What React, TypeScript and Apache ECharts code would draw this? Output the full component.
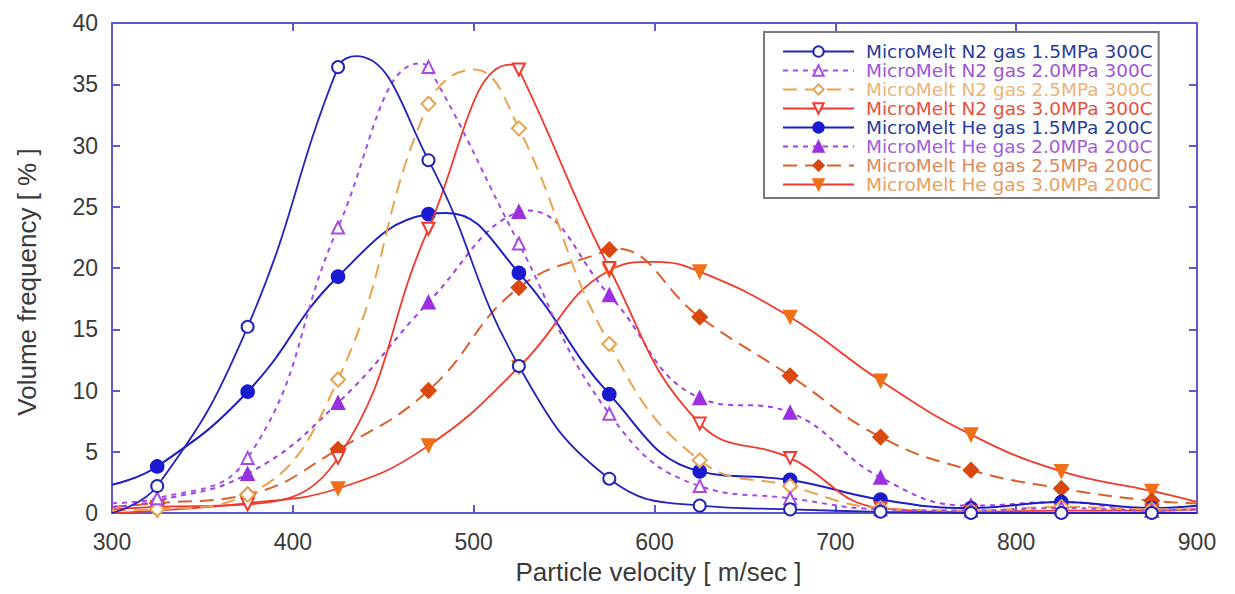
import React, { useEffect, useRef } from "react";
import * as echarts from "echarts";

// Marker positions (particle velocity, m/sec)
const velocities = [325, 375, 425, 475, 525, 575, 625, 675, 725, 775, 825, 875];

// Volume frequency [%] at marker positions
const n2_15 = [2.2, 15.2, 36.4, 28.8, 12.0, 2.8, 0.6, 0.3, 0.1, 0.0, 0.0, 0.0];
const n2_20 = [1.2, 4.5, 23.3, 36.4, 22.0, 8.1, 2.2, 1.2, 0.3, 0.2, 0.4, 0.2];
const n2_25 = [0.3, 1.5, 10.9, 33.4, 31.4, 13.8, 4.3, 2.2, 0.4, 0.2, 0.5, 0.3];
const n2_30 = [0.5, 0.7, 4.5, 23.2, 36.2, 20.0, 7.3, 4.5, 0.4, 0.1, 0.2, 0.2];
const he_15 = [3.8, 9.9, 19.3, 24.4, 19.6, 9.7, 3.4, 2.7, 1.1, 0.4, 0.9, 0.4];
const he_20 = [1.0, 3.2, 9.0, 17.2, 24.6, 17.8, 9.4, 8.2, 2.9, 0.6, 0.9, 0.2];
const he_25 = [0.8, 1.5, 5.2, 10.0, 18.4, 21.5, 16.0, 11.2, 6.2, 3.5, 2.0, 1.0];
const he_30 = [0.2, 0.8, 2.0, 5.5, 11.9, 19.8, 19.7, 16.0, 10.8, 6.4, 3.4, 1.8];

// Extra points of the fitted curves (no marker): start@300, peak x, peak y, end@900
const curveStart = [0.0, 0.8, 0.2, 0.3, 2.3, 0.5, 0.5, 0.0];
const curvePeakX = [435, 470, 500, 520, 485, 530, 578, 600];
const curvePeakY = [37.3, 36.7, 36.2, 36.6, 24.5, 24.7, 21.6, 20.5];
const curveEnd = [0.0, 0.3, 0.3, 0.3, 0.6, 0.3, 0.8, 0.9];

const seriesNames = [
  "MicroMelt N2 gas 1.5MPa 300C",
  "MicroMelt N2 gas 2.0MPa 300C",
  "MicroMelt N2 gas 2.5MPa 300C",
  "MicroMelt N2 gas 3.0MPa 300C",
  "MicroMelt He gas 1.5MPa 200C",
  "MicroMelt He gas 2.0MPa 200C",
  "MicroMelt He gas 2.5MPa 200C",
  "MicroMelt He gas 3.0MPa 200C",
];
const seriesValues = [n2_15, n2_20, n2_25, n2_30, he_15, he_20, he_25, he_30];

const xTicks = { min: 300, max: 900, interval: 100 };
const yTicks = { min: 0, max: 40, interval: 5 };

const styles = [
  { line: "#2424B8", marker: "#2424B8", text: "#2B3B9E", dash: "solid", symbol: "emptyCircle", rot: 0, size: 12, width: 1.8 },
  { line: "#A64CE0", marker: "#A64CE0", text: "#9E55D6", dash: [5, 5], symbol: "emptyTriangle", rot: 0, size: 12, width: 2 },
  { line: "#EBA24C", marker: "#EBA24C", text: "#EAB478", dash: [14, 8], symbol: "emptyDiamond", rot: 0, size: 14, width: 2 },
  { line: "#F0382C", marker: "#F0382C", text: "#E5533E", dash: "solid", symbol: "emptyTriangle", rot: 180, size: 12, width: 1.8 },
  { line: "#1E1EC4", marker: "#1A1AD0", text: "#2B3B9E", dash: "solid", symbol: "circle", rot: 0, size: 13, width: 2 },
  { line: "#A040E0", marker: "#9A30E0", text: "#A060D8", dash: [5, 5], symbol: "triangle", rot: 0, size: 13, width: 2 },
  { line: "#D9602A", marker: "#D9480F", text: "#DC8A5A", dash: [14, 8], symbol: "diamond", rot: 0, size: 15, width: 2 },
  { line: "#F03A2A", marker: "#F07018", text: "#E8A060", dash: "solid", symbol: "triangle", rot: 180, size: 13, width: 1.8 },
];

const FONT = "'Liberation Sans', Arial, sans-serif";
const LEGEND_FONT = "'DejaVu Sans', 'Liberation Sans', sans-serif";
const AXIS_COLOR = "#5A5AD4";

export default function App() {
  const ref = useRef<HTMLDivElement>(null);

  useEffect(() => {
    if (!ref.current) return;
    const chart = echarts.init(ref.current, undefined, { renderer: "svg" });

    const series = seriesValues.map((vals, i) => {
      const pts: any[] = vals.map((v, j) => ({ value: [velocities[j], v] }));
      pts.push({ value: [300, curveStart[i]], symbol: "none" });
      pts.push({ value: [900, curveEnd[i]], symbol: "none" });
      pts.push({ value: [curvePeakX[i], curvePeakY[i]], symbol: "none" });
      pts.sort((a, b) => a.value[0] - b.value[0]);
      const s = styles[i];
      return {
        name: seriesNames[i],
        type: "line",
        data: pts,
        smooth: 0.45,
        symbol: s.symbol,
        symbolSize: s.size,
        symbolRotate: s.rot,
        showAllSymbol: true,
        lineStyle: { color: s.line, width: s.width, type: s.dash },
        itemStyle: { color: s.marker, borderColor: s.marker, borderWidth: 1.6 },
        z: 10 - i,
      };
    });

    const axisLine = { show: true, onZero: false, lineStyle: { color: AXIS_COLOR, width: 2 } };
    const axisTick = { show: true, inside: true, length: 8, lineStyle: { color: AXIS_COLOR, width: 2 } };

    chart.setOption({
      animation: false,
      backgroundColor: "#ffffff",
      textStyle: { fontFamily: FONT },
      grid: { left: 112, right: 38, top: 23, bottom: 81, containLabel: false },
      legend: {
        show: true,
        orient: "vertical",
        left: 764,
        top: 32,
        padding: [10, 6, 4, 18],
        itemGap: 0,
        itemWidth: 71,
        itemHeight: 13,
        backgroundColor: "#ffffff",
        borderColor: "#7a7a7a",
        borderWidth: 2,
        data: seriesNames.map((n, i) => ({
          name: n,
          textStyle: { color: styles[i].text },
        })),
        textStyle: { fontSize: 18.5, fontFamily: LEGEND_FONT, lineHeight: 19, padding: [0, 0, 0, 7] },
      },
      xAxis: [
        {
          type: "value",
          position: "bottom",
          min: xTicks.min,
          max: xTicks.max,
          interval: xTicks.interval,
          name: "Particle velocity [ m/sec ]",
          nameLocation: "middle",
          nameGap: 46,
          nameTextStyle: { fontSize: 26, color: "#3a3a3a", fontFamily: FONT, padding: [0, 0, 0, 8] },
          axisLine,
          axisTick,
          splitLine: { show: false },
          axisLabel: { fontSize: 23, color: "#3a3a3a", margin: 17, fontFamily: FONT },
        },
        {
          type: "value",
          position: "top",
          min: xTicks.min,
          max: xTicks.max,
          interval: xTicks.interval,
          axisLine,
          axisTick,
          splitLine: { show: false },
          axisLabel: { show: false },
        },
      ],
      yAxis: [
        {
          type: "value",
          position: "left",
          min: yTicks.min,
          max: yTicks.max,
          interval: yTicks.interval,
          name: "Volume frequency [ % ]",
          nameLocation: "middle",
          nameGap: 72,
          nameTextStyle: { fontSize: 26, color: "#3a3a3a", fontFamily: FONT, padding: [0, 28, 0, 0] },
          axisLine,
          axisTick,
          splitLine: { show: false },
          axisLabel: { fontSize: 23, color: "#3a3a3a", margin: 14, fontFamily: FONT },
        },
        {
          type: "value",
          position: "right",
          min: yTicks.min,
          max: yTicks.max,
          interval: yTicks.interval,
          axisLine,
          axisTick,
          splitLine: { show: false },
          axisLabel: { show: false },
        },
      ],
      series,
    });

    return () => chart.dispose();
  }, []);

  return (
    <div
      ref={ref}
      style={{ position: "fixed", left: 0, top: 0, width: 1235, height: 594, background: "#fff" }}
    />
  );
}
